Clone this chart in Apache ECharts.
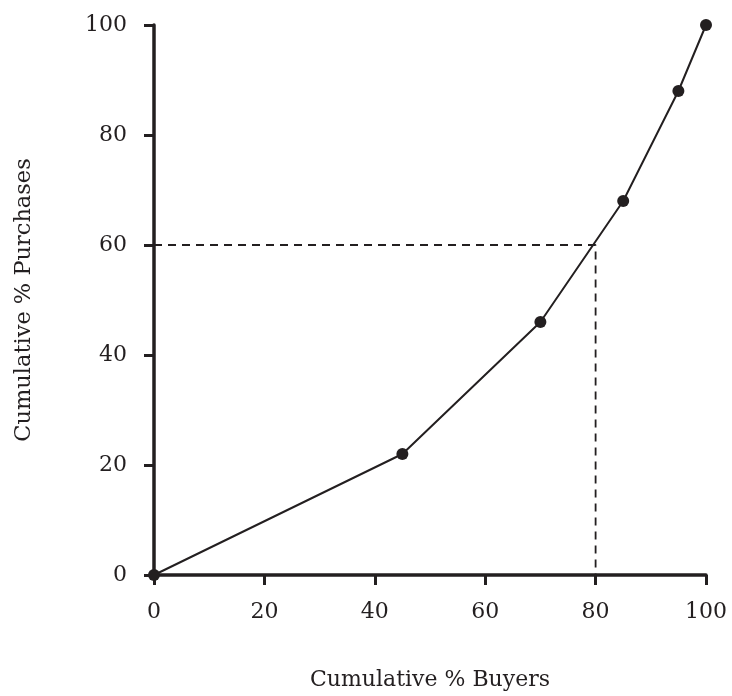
<!DOCTYPE html>
<html>
<head>
<meta charset="utf-8">
<script src="https://cdn.jsdelivr.net/npm/echarts@6/dist/echarts.min.js"></script>
<style>
html,body{margin:0;padding:0;background:#fff;}
#chart{width:732px;height:696px;}
</style>
</head>
<body>
<div id="chart"></div>
<script>
const buyersPct = [0, 45, 70, 85, 95, 100];
const purchasesPct = [0, 22, 46, 68, 88, 100];
const refX = [0, 80, 80];
const refY = [60, 60, 0];
const xTitle = 'Cumulative % Buyers';
const yTitle = 'Cumulative % Purchases';

const ink = '#231f20';
const font = 'DejaVu Serif';

const curve = buyersPct.map((x, i) => [x, purchasesPct[i]]);
const ref = refX.map((x, i) => [x, refY[i]]);

const chart = echarts.init(document.getElementById('chart'), null, {renderer: 'canvas'});
chart.setOption({
  animation: false,
  backgroundColor: '#fff',
  grid: {left: 154, right: 26, top: 25, bottom: 120, containLabel: false},
  xAxis: {
    type: 'value', min: 0, max: 100, interval: 20,
    name: xTitle, nameLocation: 'middle', nameGap: 94,
    nameTextStyle: {fontFamily: font, fontSize: 22, color: ink},
    axisLine: {show: true, onZero: false, lineStyle: {color: ink, width: 3.5}},
    axisTick: {show: true, length: 10, inside: false, lineStyle: {color: ink, width: 3}},
    axisLabel: {fontFamily: font, fontSize: 22, color: ink, margin: 26},
    splitLine: {show: false}
  },
  yAxis: {
    type: 'value', min: 0, max: 100, interval: 20,
    name: yTitle, nameLocation: 'middle', nameGap: 118,
    nameTextStyle: {fontFamily: font, fontSize: 22.5, color: ink},
    axisLine: {show: true, onZero: false, lineStyle: {color: ink, width: 3.5}},
    axisTick: {show: true, length: 10, inside: false, lineStyle: {color: ink, width: 3}},
    axisLabel: {fontFamily: font, fontSize: 22, color: ink, margin: 27},
    splitLine: {show: false}
  },
  series: [
    {
      type: 'line', data: ref, symbol: 'none', silent: true,
      lineStyle: {color: ink, width: 1.8, type: [8, 6]}, z: 1
    },
    {
      type: 'line', data: curve, symbol: 'circle', symbolSize: 12,
      itemStyle: {color: ink}, lineStyle: {color: ink, width: 2}, z: 2
    }
  ]
});
</script>
</body>
</html>
